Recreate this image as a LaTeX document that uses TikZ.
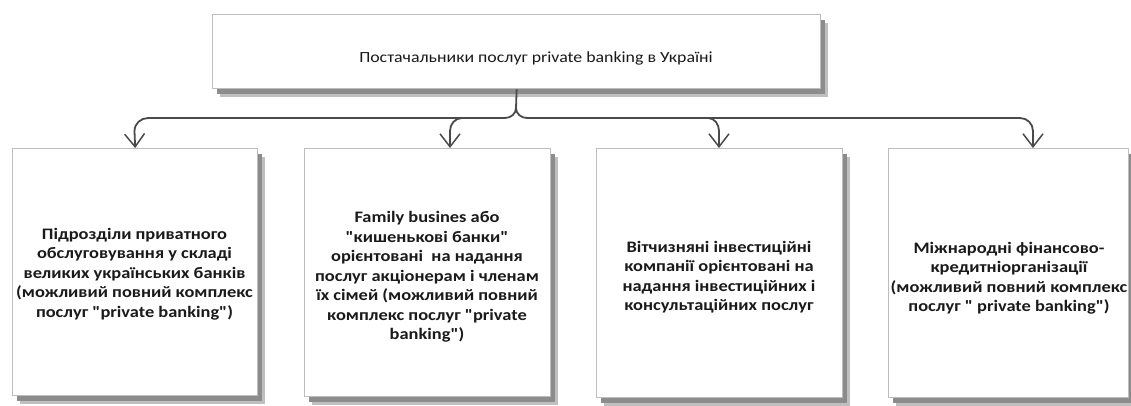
\documentclass[tikz,border=0pt]{standalone}
\usepackage{fontspec}
\newfontfamily\cfont{Carlito}[FakeStretch=1.15]
\usetikzlibrary{arrows.meta}
\definecolor{connc}{HTML}{4A4A4A}
\definecolor{bord}{HTML}{BDBDBD}
\definecolor{txt}{HTML}{1A1A1A}
\begin{document}
\begin{tikzpicture}[x=1pt,y=-1pt,
  box/.style={draw=bord, line width=1.3pt, fill=white, inner sep=0pt, anchor=north west},
  shd/.style={fill=black!25, draw=none, inner sep=0pt, anchor=north west},
  shdin/.style={fill=black!45, draw=none, inner sep=0pt, anchor=north west},
  lbl/.style={font=\cfont\bfseries\fontsize{16}{19.5}\selectfont, align=center, text=txt, inner sep=0pt},
  toplbl/.style={font=\cfont\fontsize{15.5}{18}\selectfont, text=txt, inner sep=0pt},
  conn/.style={draw=connc, line width=1.8pt},
  arr/.style={conn, -{Straight Barb[length=13pt,width=20pt,line width=1.5pt]}},
  wt/.style={minimum width=608pt, minimum height=74pt},
  w1/.style={minimum width=245pt, minimum height=247pt},
  w2/.style={minimum width=246pt, minimum height=248pt},
  w3/.style={minimum width=246pt, minimum height=249pt},
  w4/.style={minimum width=240pt, minimum height=249pt}]
\useasboundingbox (0,0) rectangle (1131,405);

% shadows
\node[shd, wt] (sht) at (220,23) {};
\node[shdin, wt] (shti) at (217,20) {};
\node[shd, w1] (sh1) at (20,157) {};
\node[shdin, w1] (sh1i) at (17,154) {};
\node[shd, w2] (sh2) at (312,157) {};
\node[shdin, w2] (sh2i) at (309,154) {};
\node[shd, w3] (sh3) at (604,157) {};
\node[shdin, w3] (sh3i) at (601,154) {};
\node[shd, w4] (sh4) at (896,157) {};
\node[shdin, w4] (sh4i) at (893,154) {};

% boxes
\node[box, wt] (top) at (212,14) {};
\node[toplbl] (toptext) at (536,58) {Постачальники послуг private banking в Україні};

\node[box, w1] (b1) at (12,148) {};
\node[box, w2] (b2) at (304,148) {};
\node[box, w3] (b3) at (596,148) {};
\node[box, w4] (b4) at (888,148) {};

\node[lbl] (t1) at (134.5,274) {Підрозділи приватного\\обслуговування у складі\\великих українських банків\\(можливий повний комплекс\\послуг "private banking")};
\node[lbl] (t2) at (427,277) {Family busines або\\"кишенькові банки"\\орієнтовані\ \ на надання\\послуг акціонерам і членам\\їх сімей (можливий повний\\комплекс послуг "private\\banking")};
\node[lbl] (t3) at (719,277) {Вітчизняні інвестиційні\\компанії орієнтовані на\\надання інвестиційних і\\консультаційних послуг};
\node[lbl] (t4) at (1009,278) {Міжнародні фінансово-\\кредитніорганізації\\(можливий повний комплекс\\послуг " private banking")};

% connector geometry
\coordinate (j) at (516,108);
\coordinate (jl) at (505,118);
\coordinate (jr) at (527,118);
\coordinate (hl) at (148,118);
\coordinate (hr) at (1020,118);
\coordinate (c1) at (134.5,131);
\coordinate (c4) at (1033,131);
\coordinate (s2) at (462,118);
\coordinate (c2) at (450,131);
\coordinate (s3) at (708,118);
\coordinate (c3) at (719,131);

\draw[conn] (top.south) -- (j);
\draw[arr] (j) to[out=-90,in=0] (jl) -- (hl) to[out=180,in=90] (c1) -- (b1.north);
\draw[arr] (j) to[out=-90,in=180] (jr) -- (hr) to[out=0,in=90] (c4) -- (c4 |- b4.north);
\draw[arr] (s2) to[out=180,in=90] (c2) -- (c2 |- b2.north);
\draw[arr] (s3) to[out=0,in=90] (c3) -- (c3 |- b3.north);
\end{tikzpicture}
\end{document}
